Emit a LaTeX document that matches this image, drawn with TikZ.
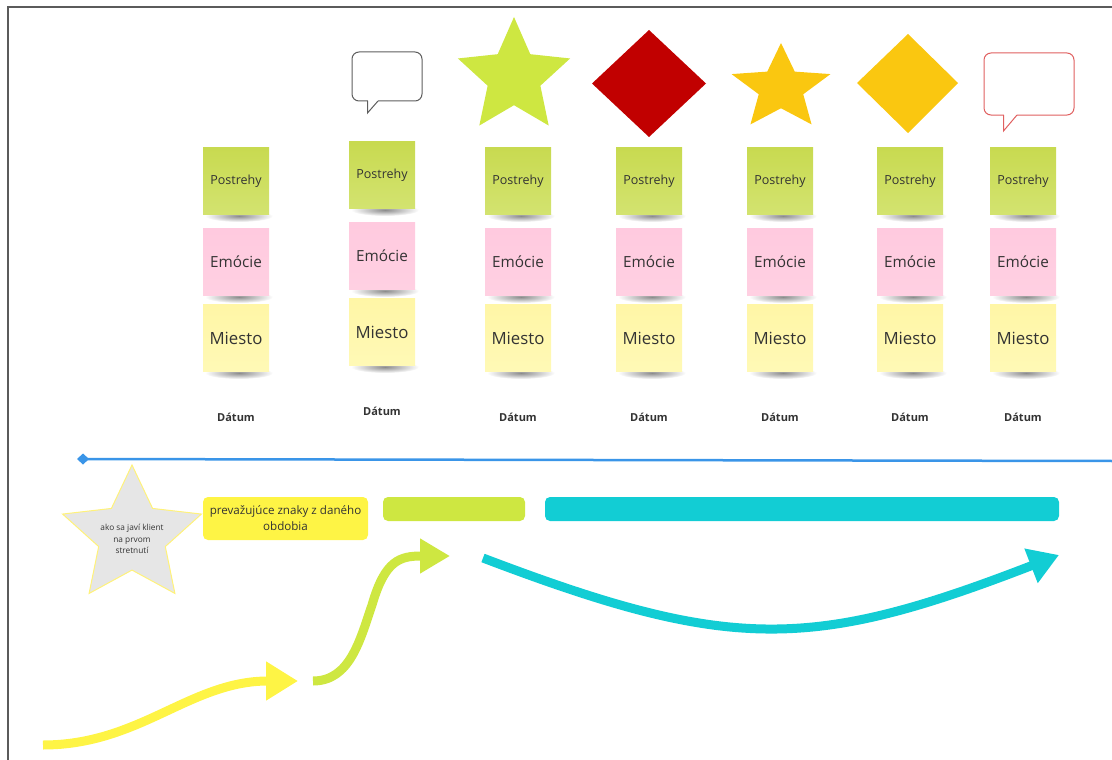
\documentclass[tikz,border=0pt]{standalone}
\usepackage{fontspec}
\setmainfont{Open Sans}
\usetikzlibrary{arrows.meta}
\definecolor{frameC}{HTML}{5B5B5B}
\definecolor{txt}{HTML}{333333}
\definecolor{limeC}{HTML}{CEE741}
\definecolor{redC}{HTML}{C10000}
\definecolor{orangeC}{HTML}{FAC710}
\definecolor{bubbleG}{HTML}{5E5E5E}
\definecolor{bubbleR}{HTML}{E06060}
\definecolor{blueC}{HTML}{3A95E8}
\definecolor{cyanC}{HTML}{12CDD4}
\definecolor{yellowC}{HTML}{FEF445}
\definecolor{starG}{HTML}{E6E6E6}
\definecolor{starY}{HTML}{FFF27A}
\definecolor{noteGt}{HTML}{C8DA50}
\definecolor{noteGb}{HTML}{D3E370}
\definecolor{notePt}{HTML}{FFCADF}
\definecolor{notePb}{HTML}{FFD0E2}
\definecolor{noteYt}{HTML}{FFF6A6}
\definecolor{noteYb}{HTML}{FFF9B6}
\newcommand\starpath[5]{plot[samples at={0,...,9}, variable=\k] ({#1+#3*(1-(1-#5)*mod(\k,2))*cos(-90+36*\k)}, {#2+#4*(1-(1-#5)*mod(\k,2))*sin(-90+36*\k)}) -- cycle}
\begin{document}
\begin{tikzpicture}[x=1pt,y=-1pt,
  note/.style={minimum width=66pt,minimum height=67pt,inner sep=0pt,text=txt},
  noteG/.style={note,top color=noteGt,bottom color=noteGb,font=\fontsize{12.5}{14}\selectfont},
  noteP/.style={note,top color=notePt,bottom color=notePb,font=\fontsize{15.3}{17}\selectfont},
  noteY/.style={note,top color=noteYt,bottom color=noteYb,font=\fontsize{16.8}{19}\selectfont},
  datum/.style={text=txt,font=\bfseries\fontsize{11}{13}\selectfont,inner sep=0pt},
  shadowS/.style={inner color=black!45,outer color=white},
  bubble/.style={line width=1pt,rounded corners=7pt},
  bigarrow/.style={line width=9pt},
  bar/.style={rounded corners=5pt,inner sep=0pt}]
\useasboundingbox (0,0) rectangle (1112,760);
% frame
\draw[frameC,line width=2pt] (7.5,761) -- (7.5,7) -- (1113,7);

% sticky notes
\foreach \i/\x/\dy in {1/236/0,2/382/-6,3/518/0,4/649/0,5/780/0,6/910/0,7/1023/0}{
  \shade[shadowS] ({\x+3},{216+\dy}) ellipse [x radius=34,y radius=6];
  \shade[shadowS] ({\x+3},{297+\dy}) ellipse [x radius=34,y radius=6];
  \shade[shadowS] ({\x+3},{373+\dy}) ellipse [x radius=34,y radius=6];
  \node[noteG] (p\i) at (\x,{181+\dy}) {Postrehy};
  \node[noteP] (e\i) at (\x,{262+\dy}) {Emócie};
  \node[noteY] (m\i) at (\x,{338+\dy}) {Miesto};
  \node[datum] (d\i) at (\x,{417+\dy}) {Dátum};
}

% top shapes
\draw[bubbleG,bubble,fill=white] (352,52) rectangle (422,101);
\fill[white] (368,99.5) rectangle (377.5,102.5);
\draw[bubbleG,line width=1pt,line join=miter] (367.5,101) -- (367.5,113) -- (378,101);

\fill[limeC] \starpath{514}{77}{59}{60}{0.47};
\fill[redC] (649,30) -- (706,83.5) -- (649,137) -- (592,83.5) -- cycle;
\fill[orangeC] \starpath{781}{88}{52}{45}{0.45};
\fill[orangeC] (908,34) -- (958,83) -- (908,133) -- (857,83) -- cycle;

\draw[bubbleR,bubble,fill=white] (984,53) rectangle (1074,115);
\fill[white] (1004,113.5) rectangle (1016.5,116.5);
\draw[bubbleR,line width=1pt,line join=miter] (1003.5,115) -- (1003.5,131) -- (1017,115);

% timeline
\coordinate (tl0) at (77,459);
\coordinate (tl1) at (1113,461);
\draw[blueC,line width=2.5pt,{Diamond[length=12pt,width=11pt]}-] (tl0) -- (tl1);

% star with text
\filldraw[fill=starG,draw=starY,line width=1pt] \starpath{132}{536}{73}{71}{0.48};
\node[text=txt,align=center,font=\fontsize{8.3}{11.5}\selectfont,inner sep=0pt] (s) at (132,539) {ako sa javí klient\\na prvom\\stretnutí};

% bars
\node[bar,fill=yellowC,minimum width=165pt,minimum height=43pt,text=txt,align=center,
  font=\fontsize{11.6}{16}\selectfont] (yb) at (285.5,518.5) {prevažujúce znaky z daného\\obdobia};
\node[bar,fill=limeC,minimum width=142pt,minimum height=24pt] (lb) at (454,509) {};
\node[bar,fill=cyanC,minimum width=514pt,minimum height=24pt] (cb) at (802,509) {};

% arrows
\coordinate (ya) at (43,745);
\coordinate (yz) at (298,681);
\draw[yellowC,bigarrow,-{Triangle[length=32pt,width=37pt]}] (ya) .. controls (140,745) and (190,681) .. (yz);

\coordinate (la) at (313,681);
\coordinate (lm) at (372,605);
\coordinate (lz) at (450,556);
\draw[limeC,bigarrow,-{Triangle[length=30pt,width=33pt]}] (la) .. controls (350,681) and (360,640) .. (lm) .. controls (385,560) and (400,556) .. (lz);

\coordinate (ca) at (483,558);
\coordinate (cz) at (1059,555);
\draw[cyanC,bigarrow,-{Triangle[length=30pt,width=35pt]}] (ca) .. controls (730,652) and (811,651) .. (cz);
\end{tikzpicture}
\end{document}
